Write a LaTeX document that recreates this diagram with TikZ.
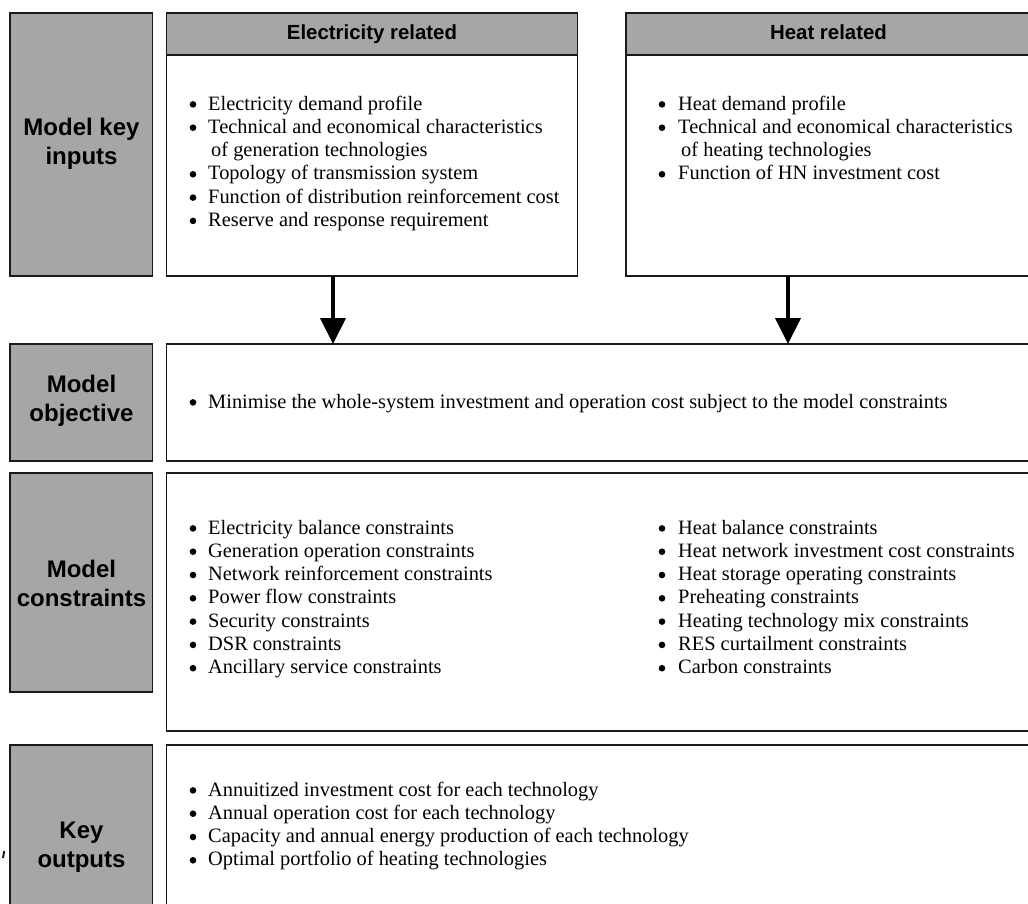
\documentclass[tikz,border=0pt]{standalone}
\usepackage{fontspec}
\setmainfont{Liberation Serif}
\newfontfamily\hdrfont{Liberation Sans}
\usetikzlibrary{arrows.meta,calc}
\definecolor{boxgray}{HTML}{A6A6A6}
\definecolor{edgecol}{HTML}{1A1A1A}

\newcommand\mylist[5]{%
  \foreach \b/\txt [count=\i from 0] in {#5} {%
    \node[itemtext] (#1t\i) at ({#3+3*(1-\b)}, {#4+23.3*\i}) {\txt};
    \ifnum\b=1 \node[bul] (#1b\i) at (#2, {#4-5.6+23.3*\i}) {}; \fi
  }%
}

\begin{document}
\begin{tikzpicture}[x=1pt,y=-1pt,
  box/.style={draw=edgecol, line width=1.3pt, inner sep=0pt, outer sep=0pt, anchor=north west},
  graybox/.style={box, fill=boxgray},
  whitebox/.style={box, fill=white},
  label/.style={font=\hdrfont\bfseries\fontsize{24}{29}\selectfont, align=center, inner sep=0pt},
  hdrtext/.style={font=\hdrfont\bfseries\fontsize{20.4}{24}\selectfont, text height=15pt, text depth=4pt},
  itemtext/.style={font=\fontsize{20.4}{23.3}\selectfont, inner sep=0pt, anchor=base west},
  bul/.style={circle, fill=black, inner sep=0pt, minimum size=6.6pt},
  bigarrow/.style={line width=4pt, -{Triangle[width=25pt,length=26pt]}}
]
\useasboundingbox (0,0) rectangle (1028,903);

% left grey boxes
\node[graybox, minimum width=142.7pt, minimum height=263pt] (ginp) at (10,13) {};
\node[graybox, minimum width=142.7pt, minimum height=117pt] (gobj) at (10,344) {};
\node[graybox, minimum width=142.7pt, minimum height=219pt] (gcon) at (10,473) {};
\node[graybox, minimum width=142.7pt, minimum height=210pt] (gout) at (10,745) {};

\node[label] (linp) at (81.5,144) {Model key\\inputs};
\node[label] (lobj) at (81.5,401) {Model\\objective};
\node[label] (lcon) at (81.5,583) {Model\\constraints};
\node[label] (lout) at (81.5,847) {Key\\outputs};

% top boxes
\node[whitebox, minimum width=411pt, minimum height=221pt] (elecbody) at (166.5,55) {};
\node[graybox, minimum width=411pt, minimum height=42pt, hdrtext] (elechead) at (166.5,13) {Electricity related};
\node[whitebox, minimum width=405pt, minimum height=221pt] (heatbody) at (626,55) {};
\node[graybox, minimum width=405pt, minimum height=42pt, hdrtext] (heathead) at (626,13) {Heat related};

% lower white boxes
\node[whitebox, minimum width=864.5pt, minimum height=117pt] (objbox) at (166.5,344) {};
\node[whitebox, minimum width=864.5pt, minimum height=258pt] (conbox) at (166.5,473) {};
\node[whitebox, minimum width=864.5pt, minimum height=165pt] (outbox) at (166.5,745) {};

% lists
\mylist{e}{193}{208}{110}{1/Electricity demand profile,1/Technical and economical characteristics,0/of generation technologies,1/Topology of transmission system,1/Function of distribution reinforcement cost,1/Reserve and response requirement}
\mylist{h}{662}{678}{110}{1/Heat demand profile,1/Technical and economical characteristics,0/of heating technologies,1/Function of HN investment cost}
\mylist{o}{193}{208}{408}{1/Minimise the whole-system investment and operation cost subject to the model constraints}
\mylist{c}{193}{208}{534}{1/Electricity balance constraints,1/Generation operation constraints,1/Network reinforcement constraints,1/Power flow constraints,1/Security constraints,1/DSR constraints,1/Ancillary service constraints}
\mylist{d}{662}{678}{534}{1/Heat balance constraints,1/Heat network investment cost constraints,1/Heat storage operating constraints,1/Preheating constraints,1/Heating technology mix constraints,1/RES curtailment constraints,1/Carbon constraints}
\mylist{k}{193}{208}{796}{1/Annuitized investment cost for each technology,1/Annual operation cost for each technology,1/Capacity and annual energy production of each technology,1/Optimal portfolio of heating technologies}

% arrows
\coordinate (a1) at ([xshift=166.5pt]elecbody.south west);
\coordinate (a2) at ([xshift=162pt]heatbody.south west);
\draw[bigarrow] (a1) -- (a1 |- objbox.north);
\draw[bigarrow] (a2) -- (a2 |- objbox.north);

% small stray mark
\draw[line width=2pt, edgecol] (4.2,851) -- (3,858);
\end{tikzpicture}
\end{document}
